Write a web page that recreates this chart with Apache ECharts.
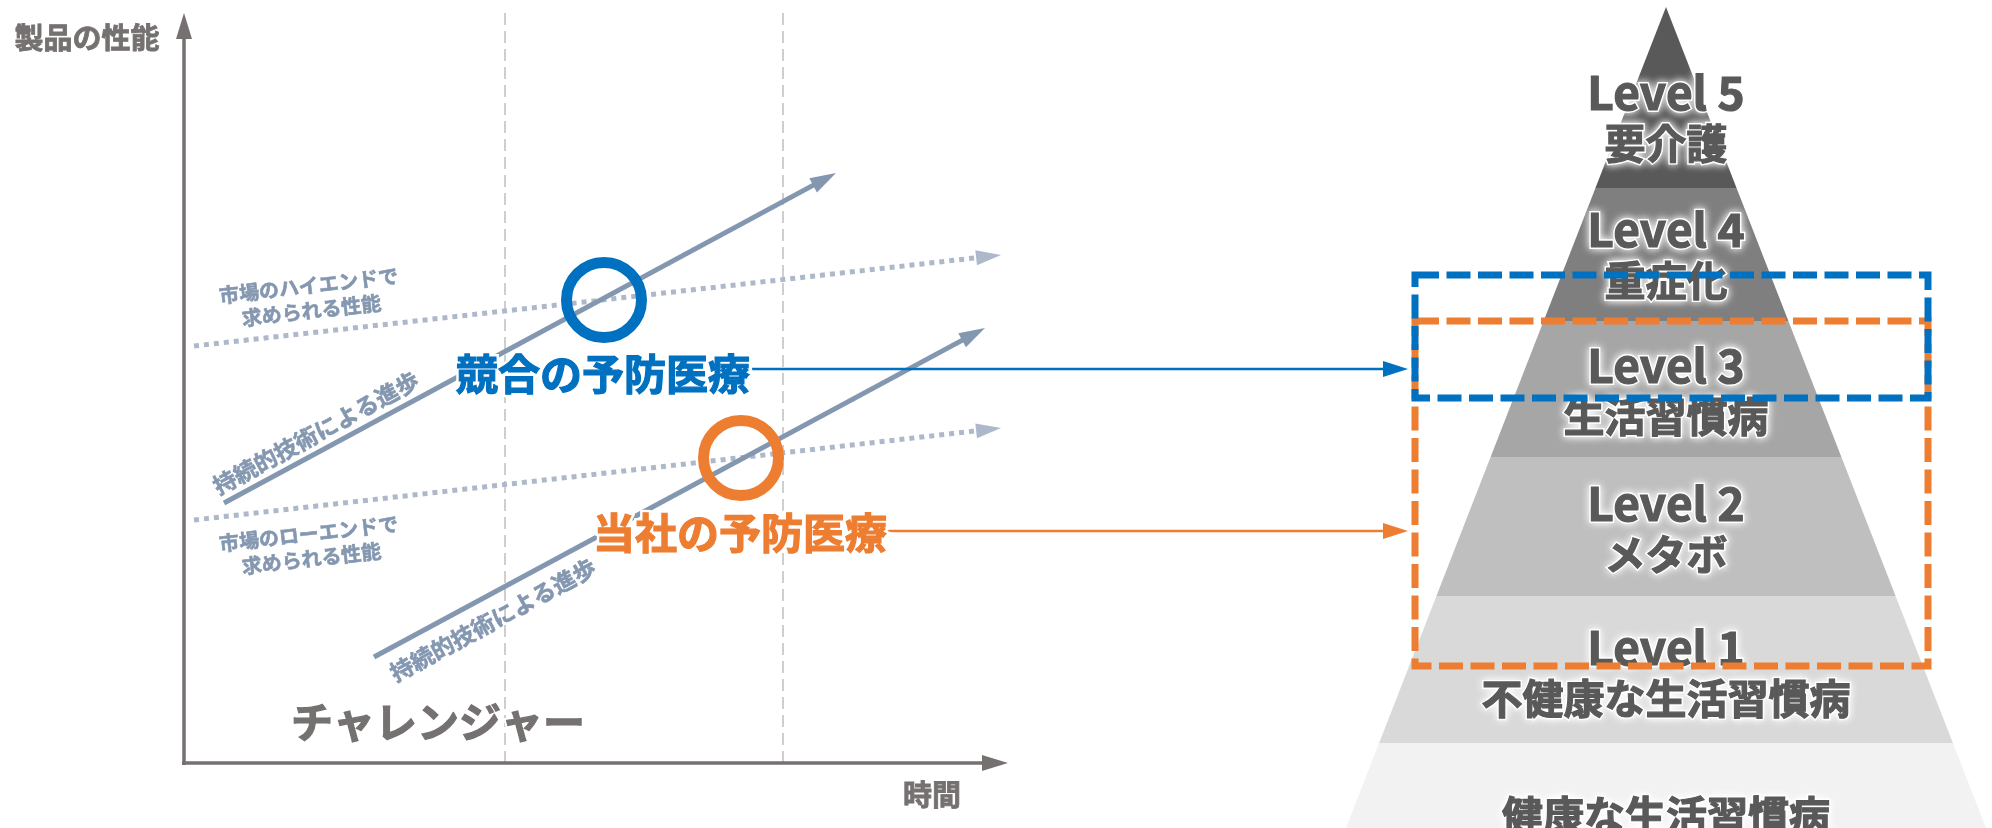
<!DOCTYPE html>
<html>
<head>
<meta charset="utf-8">
<script src="https://cdn.jsdelivr.net/npm/echarts@6/dist/echarts.min.js"></script>
<style>
html, body { margin: 0; padding: 0; background: #fff; }
#chart { width: 1992px; height: 828px; }
</style>
</head>
<body>
<div id="chart"></div>
<script>
const W = 1992, H = 828;
const FONT = '"Noto Sans CJK JP", "Noto Sans", sans-serif';

// left: challenger chart, in slide pixels (y grows downward)
const axisLines = [[[184, 765], [184, 13]], [[182, 763], [1008, 763]]];
const timeMarks = [505, 783];
const progressLines = [[[224, 503], [836, 173]], [[374, 657], [985, 328]]];
const demandLines = [[[194, 346], [1001, 255]], [[194, 520], [1001, 428]]];
const ringPoints = [[604, 300], [741, 458]];
const productNames = ['競合の予防医療', '当社の予防医療'];
const productPos = [[603, 374], [740, 533]];
const connectorLines = [[[752, 369], [1408, 369]], [[886, 531], [1408, 531]]];
const demandNames = ['市場のハイエンドで\n求められる性能', '市場のローエンドで\n求められる性能'];
const demandLabelPos = [[310, 298], [310, 546]];
const progressName = '持続的技術による進歩';
const progressLabelPos = [[316, 433], [493, 620]];
const axisNames = ['製品の性能', '時間'];
const axisNamePos = [[87, 38], [932, 795]];
const playerName = 'チャレンジャー';
const playerPos = [438, 722];

// right: health level pyramid
const levelNames = ['Level 5', 'Level 4', 'Level 3', 'Level 2', 'Level 1', ''];
const levelStates = ['要介護', '重症化', '生活習慣病', 'メタボ', '不健康な生活習慣病', '健康な生活習慣病'];
const levelBands = [[7, 188], [188, 321], [321, 457], [457, 596], [596, 743], [743, 828]];
const levelLabelY = [118, 255, 391, 529, 673, 815];
const pyramidApex = [1666, 7];
const pyramidBaseHalf = 320; // half width at y = 828
const scopeBoxes = [[1415, 321, 1928, 666], [1415, 275, 1928, 398]]; // ours, competitor

const levelColors = ['#595959', '#7f7f7f', '#a6a6a6', '#bfbfbf', '#d9d9d9', '#f2f2f2'];
const blue = '#0070c0', orange = '#ed7d31';
const arrowStyles = [
  { color: '#767171', width: 3.5, head: [16, 26] },
  { color: '#8497b0', width: 5, head: [16, 26] },
  { color: '#adb9ca', width: 5, head: [15, 25], dash: [5, 5] },
  { color: blue, width: 2.5, head: [16, 25] },
  { color: orange, width: 2.5, head: [16, 25] }
];

function toArrows(lines, kind) {
  return lines.map(l => [l[0][0], l[0][1], l[1][0], l[1][1], kind]);
}

function renderArrow(params, api) {
  const a = api.coord([api.value(0), api.value(1)]);
  const b = api.coord([api.value(2), api.value(3)]);
  const st = arrowStyles[api.value(4)];
  const dx = b[0] - a[0], dy = b[1] - a[1];
  const len = Math.hypot(dx, dy);
  const ux = dx / len, uy = dy / len;
  const hl = st.head[1], hw = st.head[0] / 2;
  const bx = b[0] - ux * hl, by = b[1] - uy * hl;
  return {
    type: 'group',
    children: [
      {
        type: 'line',
        shape: { x1: a[0], y1: a[1], x2: b[0] - ux * hl * 0.5, y2: b[1] - uy * hl * 0.5 },
        style: { stroke: st.color, lineWidth: st.width, lineDash: st.dash || null, lineCap: 'butt' }
      },
      {
        type: 'polygon',
        shape: { points: [[b[0], b[1]], [bx - uy * hw, by + ux * hw], [bx + uy * hw, by - ux * hw]] },
        style: { fill: st.color }
      }
    ]
  };
}

function halfAt(y) {
  return pyramidBaseHalf * (y - pyramidApex[1]) / (H - pyramidApex[1]);
}

function renderBand(params, api) {
  const y0 = api.value(0), y1 = api.value(1);
  const cx = pyramidApex[0];
  const pts = [[cx - halfAt(y0), y0], [cx + halfAt(y0), y0], [cx + halfAt(y1), y1], [cx - halfAt(y1), y1]]
    .map(p => api.coord(p));
  return { type: 'polygon', shape: { points: pts }, style: { fill: levelColors[params.dataIndex] } };
}

function renderBox(params, api) {
  const p0 = api.coord([api.value(0), api.value(1)]);
  const p1 = api.coord([api.value(2), api.value(3)]);
  return {
    type: 'rect',
    shape: { x: p0[0], y: p0[1], width: p1[0] - p0[0], height: p1[1] - p0[1] },
    style: { fill: 'none', stroke: params.dataIndex === 0 ? orange : blue, lineWidth: 7, lineDash: [24, 7.5] }
  };
}

function renderMark(params, api) {
  const p0 = api.coord([api.value(0), 13]);
  const p1 = api.coord([api.value(0), 763]);
  return {
    type: 'line',
    shape: { x1: p0[0], y1: p0[1], x2: p1[0], y2: p1[1] },
    style: { stroke: '#d0cece', lineWidth: 2, lineDash: [12, 6] }
  };
}

// text layer: scatter with invisible symbols, label carries the text
function textLayer(points, texts, style, z) {
  return {
    type: 'scatter',
    z: z,
    symbolSize: 0,
    silent: true,
    itemStyle: { opacity: 1 },
    data: points.map((p, i) => ({ value: p, name: texts[i] })),
    label: Object.assign({
      show: true,
      opacity: 1,
      position: 'inside',
      align: 'center',
      verticalAlign: 'middle',
      formatter: p => p.name,
      fontFamily: FONT,
      fontWeight: 'bold'
    }, style)
  };
}

// same-colour hairline stroke makes the bold face a little heavier
function heavy(style, w) {
  return Object.assign({ textBorderColor: style.color, textBorderWidth: w }, style);
}

// white outline drawn underneath, crisp fill on top
function haloText(points, texts, style, halo) {
  const under = Object.assign({}, style, { color: '#fff', textBorderColor: '#fff', textBorderWidth: halo });
  return [textLayer(points, texts, under, 5), textLayer(points, texts, heavy(style, 1.2), 6)];
}

function levelLabel(i) {
  return (levelNames[i] ? '{a|' + levelNames[i] + '}\n' : '') + '{b|' + levelStates[i] + '}';
}

function levelLayer(glow, z) {
  const base = { fontFamily: FONT, fontWeight: 'bold', lineHeight: 51, color: glow ? '#fff' : '#595959' };
  if (glow) {
    Object.assign(base, { textBorderColor: '#fff', textBorderWidth: 4, textShadowColor: '#fff', textShadowBlur: 8 });
  } else {
    Object.assign(base, { textBorderColor: '#595959', textBorderWidth: 1.2 });
  }
  return textLayer(
    levelLabelY.map(y => [pyramidApex[0], y]),
    levelNames.map((n, i) => levelLabel(i)),
    {
      rich: {
        a: Object.assign({ fontSize: 46 }, base),
        b: Object.assign({ fontSize: 41 }, base)
      }
    },
    z
  );
}

const option = {
  animation: false,
  backgroundColor: '#ffffff',
  grid: { left: 0, right: 0, top: 0, bottom: 0 },
  xAxis: { type: 'value', min: 0, max: W, show: false },
  yAxis: { type: 'value', min: 0, max: H, inverse: true, show: false },
  series: [
    { type: 'custom', z: 1, silent: true, renderItem: renderMark, data: timeMarks.map(x => [x, 0]) },
    { type: 'custom', z: 2, silent: true, renderItem: renderArrow, data: toArrows(demandLines, 2) },
    { type: 'custom', z: 3, silent: true, renderItem: renderArrow, data: toArrows(progressLines, 1) },
    { type: 'custom', z: 3, silent: true, renderItem: renderArrow, data: toArrows(axisLines, 0) },
    {
      type: 'custom', z: 3, silent: true, renderItem: renderArrow,
      data: toArrows([connectorLines[0]], 3).concat(toArrows([connectorLines[1]], 4))
    },
    {
      type: 'scatter', z: 4, silent: true, symbol: 'circle', symbolSize: 75,
      data: ringPoints.map((p, i) => ({
        value: p,
        itemStyle: { color: 'rgba(0,0,0,0)', opacity: 1, borderColor: i === 0 ? blue : orange, borderWidth: 11 }
      }))
    },
    { type: 'custom', z: 1, silent: true, renderItem: renderBand, data: levelBands },
    textLayer(axisNamePos, axisNames, heavy({ fontSize: 29, color: '#767171' }, 0.8), 6),
    ...haloText([playerPos], [playerName], { fontSize: 42, color: '#767171' }, 5),
    textLayer(demandLabelPos, demandNames, heavy({ fontSize: 20, lineHeight: 25, color: '#8497b0', rotate: 6.5 }, 0.6), 6),
    textLayer(progressLabelPos, [progressName, progressName], heavy({ fontSize: 23, color: '#8497b0', rotate: 28.5 }, 0.6), 6),
    ...haloText([productPos[0]], [productNames[0]], { fontSize: 42, color: blue }, 6),
    ...haloText([productPos[1]], [productNames[1]], { fontSize: 42, color: orange }, 6),
    levelLayer(true, 5),
    levelLayer(false, 6),
    { type: 'custom', z: 8, silent: true, renderItem: renderBox, data: scopeBoxes }
  ]
};

const chart = echarts.init(document.getElementById('chart'));
chart.setOption(option);
</script>
</body>
</html>
